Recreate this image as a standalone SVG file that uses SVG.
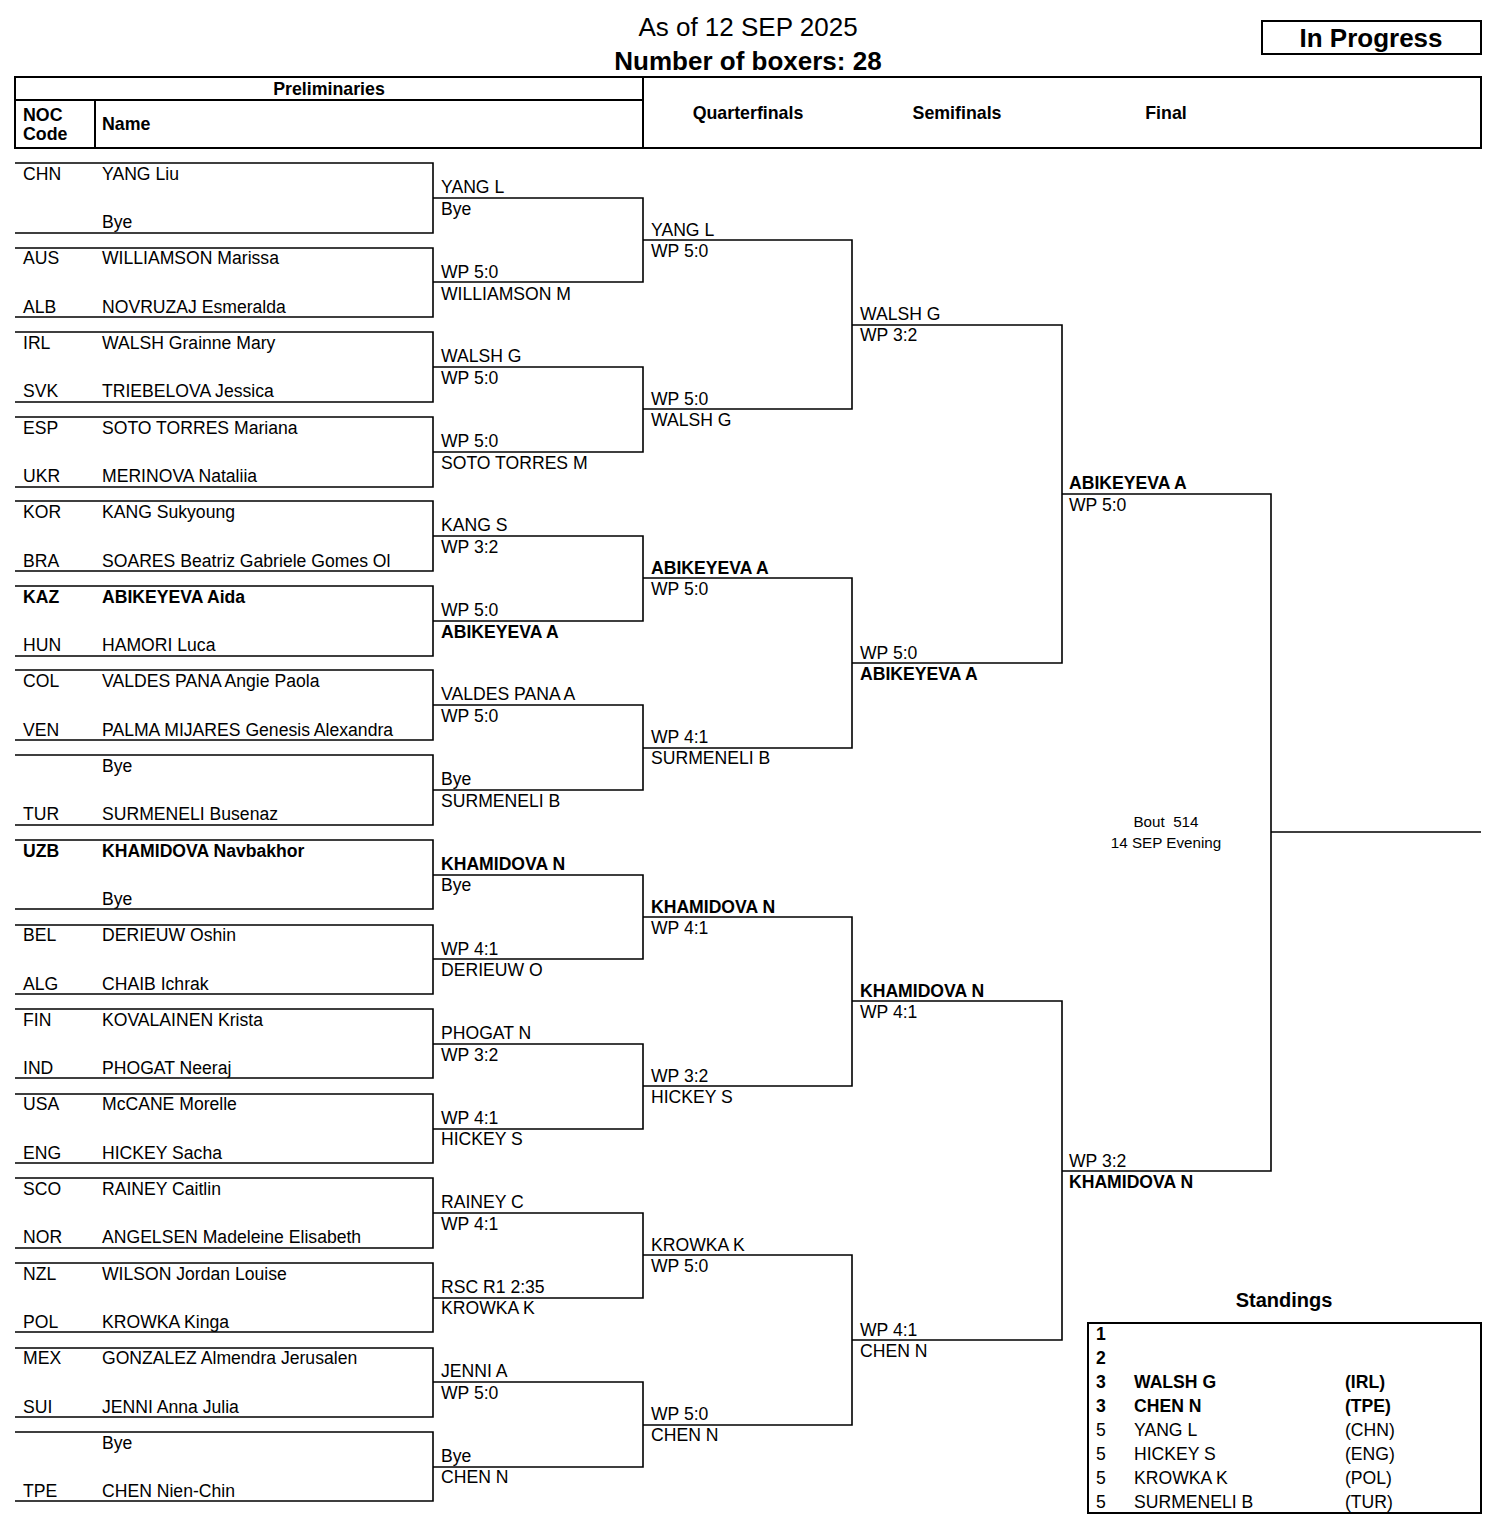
<svg xmlns="http://www.w3.org/2000/svg" width="1504" height="1526" viewBox="0 0 1504 1526">
<style>
text{font-family:"Liberation Sans",Arial,sans-serif;fill:#000;font-size:17.6px}
.b{font-weight:bold}
.c{text-anchor:middle}
.h{font-size:17.8px}
.ln{fill:none;stroke:#000;stroke-width:1.6}
.hb{fill:none;stroke:#000;stroke-width:2}
.sm{font-size:15.2px}
</style>
<rect width="1504" height="1526" fill="#fff"/>
<g id="title">
<text x="748" y="36" class="c" style="font-size:26px">As of 12 SEP 2025</text>
<text x="748" y="70" class="c b" style="font-size:26px">Number of boxers: 28</text>
</g>
<g id="status">
<rect x="1262" y="21" width="219" height="33" class="hb"/>
<text x="1371" y="47" class="c b" style="font-size:26px">In Progress</text>
</g>
<g id="header">
<rect x="15" y="77" width="1466" height="71" class="hb"/>
<path d="M15,100H643M643,77V148M95,100V148" class="hb"/>
<text x="329" y="95" class="c b h">Preliminaries</text>
<text x="23" y="121" class="b h">NOC</text>
<text x="23" y="140" class="b h">Code</text>
<text x="102" y="130" class="b h">Name</text>
<text x="748" y="119" class="c b h">Quarterfinals</text>
<text x="957" y="119" class="c b h">Semifinals</text>
<text x="1166" y="119" class="c b h">Final</text>
</g>
<g id="prelims">
<g id="p1"><path d="M15,163H433V233H15" class="ln"/><text x="23" y="180">CHN</text><text x="102" y="180">YANG Liu</text><text x="102" y="228">Bye</text></g>
<g id="p2"><path d="M15,248H433V317H15" class="ln"/><text x="23" y="264">AUS</text><text x="102" y="264">WILLIAMSON Marissa</text><text x="23" y="313">ALB</text><text x="102" y="313">NOVRUZAJ Esmeralda</text></g>
<g id="p3"><path d="M15,332H433V402H15" class="ln"/><text x="23" y="349">IRL</text><text x="102" y="349">WALSH Grainne Mary</text><text x="23" y="397">SVK</text><text x="102" y="397">TRIEBELOVA Jessica</text></g>
<g id="p4"><path d="M15,417H433V487H15" class="ln"/><text x="23" y="434">ESP</text><text x="102" y="434">SOTO TORRES Mariana</text><text x="23" y="482">UKR</text><text x="102" y="482">MERINOVA Nataliia</text></g>
<g id="p5"><path d="M15,501H433V571H15" class="ln"/><text x="23" y="518">KOR</text><text x="102" y="518">KANG Sukyoung</text><text x="23" y="567">BRA</text><text x="102" y="567">SOARES Beatriz Gabriele Gomes Ol</text></g>
<g id="p6"><path d="M15,586H433V656H15" class="ln"/><text x="23" y="603" class="b">KAZ</text><text x="102" y="603" class="b">ABIKEYEVA Aida</text><text x="23" y="651">HUN</text><text x="102" y="651">HAMORI Luca</text></g>
<g id="p7"><path d="M15,670H433V740H15" class="ln"/><text x="23" y="687">COL</text><text x="102" y="687">VALDES PANA Angie Paola</text><text x="23" y="736">VEN</text><text x="102" y="736">PALMA MIJARES Genesis Alexandra</text></g>
<g id="p8"><path d="M15,755H433V825H15" class="ln"/><text x="102" y="772">Bye</text><text x="23" y="820">TUR</text><text x="102" y="820">SURMENELI Busenaz</text></g>
<g id="p9"><path d="M15,840H433V909H15" class="ln"/><text x="23" y="857" class="b">UZB</text><text x="102" y="857" class="b">KHAMIDOVA Navbakhor</text><text x="102" y="905">Bye</text></g>
<g id="p10"><path d="M15,925H433V994H15" class="ln"/><text x="23" y="941">BEL</text><text x="102" y="941">DERIEUW Oshin</text><text x="23" y="990">ALG</text><text x="102" y="990">CHAIB Ichrak</text></g>
<g id="p11"><path d="M15,1009H433V1078H15" class="ln"/><text x="23" y="1026">FIN</text><text x="102" y="1026">KOVALAINEN Krista</text><text x="23" y="1074">IND</text><text x="102" y="1074">PHOGAT Neeraj</text></g>
<g id="p12"><path d="M15,1094H433V1163H15" class="ln"/><text x="23" y="1110">USA</text><text x="102" y="1110">McCANE Morelle</text><text x="23" y="1159">ENG</text><text x="102" y="1159">HICKEY Sacha</text></g>
<g id="p13"><path d="M15,1178H433V1248H15" class="ln"/><text x="23" y="1195">SCO</text><text x="102" y="1195">RAINEY Caitlin</text><text x="23" y="1243">NOR</text><text x="102" y="1243">ANGELSEN Madeleine Elisabeth</text></g>
<g id="p14"><path d="M15,1263H433V1332H15" class="ln"/><text x="23" y="1280">NZL</text><text x="102" y="1280">WILSON Jordan Louise</text><text x="23" y="1328">POL</text><text x="102" y="1328">KROWKA Kinga</text></g>
<g id="p15"><path d="M15,1348H433V1417H15" class="ln"/><text x="23" y="1364">MEX</text><text x="102" y="1364">GONZALEZ Almendra Jerusalen</text><text x="23" y="1413">SUI</text><text x="102" y="1413">JENNI Anna Julia</text></g>
<g id="p16"><path d="M15,1432H433V1501H15" class="ln"/><text x="102" y="1449">Bye</text><text x="23" y="1497">TPE</text><text x="102" y="1497">CHEN Nien-Chin</text></g>
</g>
<g id="connectors">
<path class="ln" d="M433,198H643V282H433M433,367H643V452H433M433,536H643V621H433M433,705H643V790H433M433,875H643V959H433M433,1044H643V1129H433M433,1213H643V1298H433M433,1382H643V1467H433"/>
<path class="ln" d="M643,240H852V409H643M643,578H852V748H643M643,917H852V1086H643M643,1255H852V1425H643"/>
<path class="ln" d="M852,325H1062V663H852M852,1001H1062V1340H852"/>
<path class="ln" d="M1062,494H1271V1171H1062M1271,832H1481"/>
</g>
<g id="r1">
<text x="441" y="193">YANG L</text><text x="441" y="215">Bye</text>
<text x="441" y="278">WP 5:0</text><text x="441" y="300">WILLIAMSON M</text>
<text x="441" y="362">WALSH G</text><text x="441" y="384">WP 5:0</text>
<text x="441" y="447">WP 5:0</text><text x="441" y="469">SOTO TORRES M</text>
<text x="441" y="531">KANG S</text><text x="441" y="553">WP 3:2</text>
<text x="441" y="616">WP 5:0</text><text x="441" y="638" class="b">ABIKEYEVA A</text>
<text x="441" y="700">VALDES PANA A</text><text x="441" y="722">WP 5:0</text>
<text x="441" y="785">Bye</text><text x="441" y="807">SURMENELI B</text>
<text x="441" y="870" class="b">KHAMIDOVA N</text><text x="441" y="891">Bye</text>
<text x="441" y="955">WP 4:1</text><text x="441" y="976">DERIEUW O</text>
<text x="441" y="1039">PHOGAT N</text><text x="441" y="1061">WP 3:2</text>
<text x="441" y="1124">WP 4:1</text><text x="441" y="1145">HICKEY S</text>
<text x="441" y="1208">RAINEY C</text><text x="441" y="1230">WP 4:1</text>
<text x="441" y="1293">RSC R1 2:35</text><text x="441" y="1314">KROWKA K</text>
<text x="441" y="1377">JENNI A</text><text x="441" y="1399">WP 5:0</text>
<text x="441" y="1462">Bye</text><text x="441" y="1483">CHEN N</text>
</g>
<g id="qf">
<text x="651" y="236">YANG L</text><text x="651" y="257">WP 5:0</text>
<text x="651" y="405">WP 5:0</text><text x="651" y="426">WALSH G</text>
<text x="651" y="574" class="b">ABIKEYEVA A</text><text x="651" y="595">WP 5:0</text>
<text x="651" y="743">WP 4:1</text><text x="651" y="764">SURMENELI B</text>
<text x="651" y="913" class="b">KHAMIDOVA N</text><text x="651" y="934">WP 4:1</text>
<text x="651" y="1082">WP 3:2</text><text x="651" y="1103">HICKEY S</text>
<text x="651" y="1251">KROWKA K</text><text x="651" y="1272">WP 5:0</text>
<text x="651" y="1420">WP 5:0</text><text x="651" y="1441">CHEN N</text>
</g>
<g id="sf">
<text x="860" y="320">WALSH G</text><text x="860" y="341">WP 3:2</text>
<text x="860" y="659">WP 5:0</text><text x="860" y="680" class="b">ABIKEYEVA A</text>
<text x="860" y="997" class="b">KHAMIDOVA N</text><text x="860" y="1018">WP 4:1</text>
<text x="860" y="1336">WP 4:1</text><text x="860" y="1357">CHEN N</text>
</g>
<g id="final">
<text x="1069" y="489" class="b">ABIKEYEVA A</text><text x="1069" y="511">WP 5:0</text>
<text x="1069" y="1167">WP 3:2</text><text x="1069" y="1188" class="b">KHAMIDOVA N</text>
<text x="1166" y="827" class="c sm" xml:space="preserve">Bout  514</text>
<text x="1166" y="848" class="c sm">14 SEP Evening</text>
</g>
<g id="standings">
<text x="1284" y="1307" class="c b" style="font-size:20px">Standings</text>
<rect x="1088" y="1323" width="393" height="190" class="hb"/>
<text x="1096" y="1340" class="b">1</text>
<text x="1096" y="1364" class="b">2</text>
<text x="1096" y="1388" class="b">3</text><text x="1134" y="1388" class="b">WALSH G</text><text x="1345" y="1388" class="b">(IRL)</text>
<text x="1096" y="1412" class="b">3</text><text x="1134" y="1412" class="b">CHEN N</text><text x="1345" y="1412" class="b">(TPE)</text>
<text x="1096" y="1436">5</text><text x="1134" y="1436">YANG L</text><text x="1345" y="1436">(CHN)</text>
<text x="1096" y="1460">5</text><text x="1134" y="1460">HICKEY S</text><text x="1345" y="1460">(ENG)</text>
<text x="1096" y="1484">5</text><text x="1134" y="1484">KROWKA K</text><text x="1345" y="1484">(POL)</text>
<text x="1096" y="1508">5</text><text x="1134" y="1508">SURMENELI B</text><text x="1345" y="1508">(TUR)</text>
</g>
</svg>
